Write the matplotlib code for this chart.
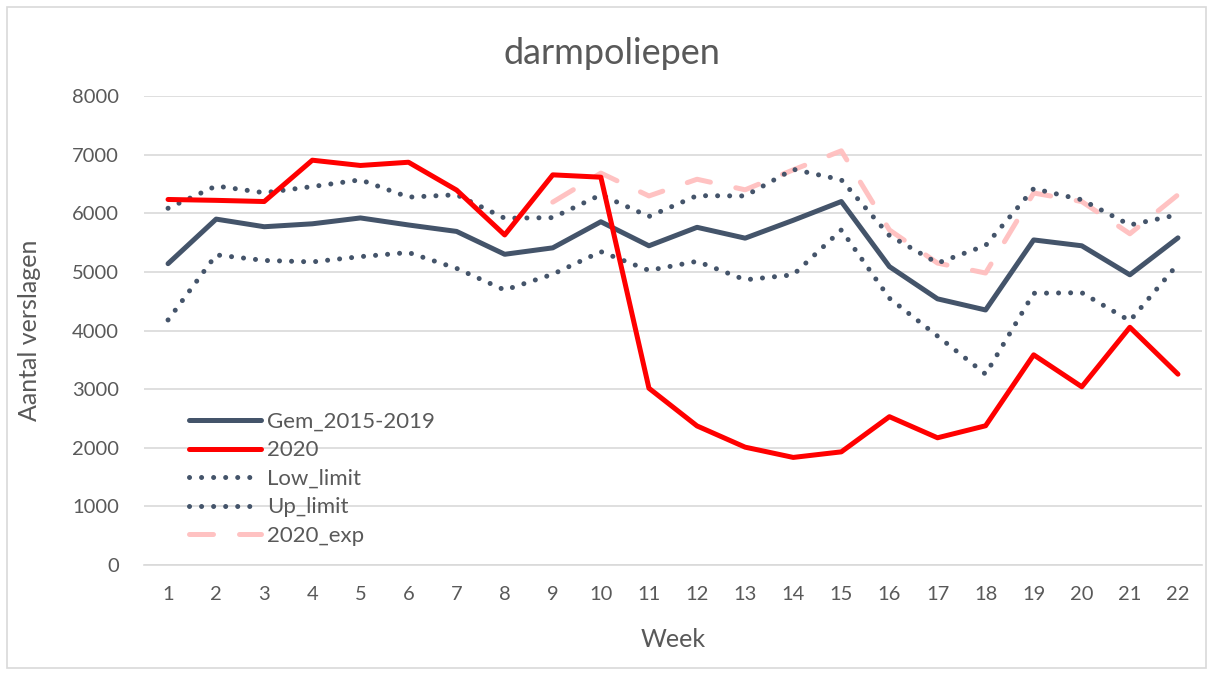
import numpy as np
import matplotlib
matplotlib.use("Agg")
import matplotlib.pyplot as plt
from matplotlib.patches import Rectangle

weeks = list(range(1, 23))
gem_2015_2019 = [5140, 5900, 5770, 5820, 5920, 5800, 5690, 5300, 5410, 5855,
                 5445, 5760, 5575, 5880, 6200, 5090, 4540, 4350, 5545, 5445, 4950, 5580]
y2020 = [6235, 6220, 6200, 6905, 6815, 6870, 6395, 5630, 6655, 6615,
         3015, 2372, 2010, 1835, 1930, 2530, 2170, 2375, 3585, 3040, 4055, 3255]
low_limit = [4180, 5290, 5195, 5170, 5260, 5330, 5060, 4690, 4960, 5345,
             5025, 5180, 4865, 4950, 5715, 4550, 3905, 3255, 4635, 4645, 4165, 5135]
up_limit = [6085, 6465, 6350, 6455, 6570, 6275, 6315, 5915, 5925, 6315,
            5945, 6300, 6295, 6750, 6570, 5620, 5150, 5450, 6420, 6230, 5800, 5975]
exp_2020 = [np.nan] * 8 + [6190, 6685, 6295, 6580, 6400, 6740, 7065,
                           5715, 5150, 4980, 6345, 6200, 5650, 6315]

plt.rcParams['font.family'] = ['Lato', 'DejaVu Sans']
txt = '#595959'
navy = '#44546A'

fig = plt.figure(figsize=(12.14, 6.75), dpi=100)
ax = fig.add_axes([144/1214, 1-565/675, (1202-144)/1214, (565-96)/675])

fig.patches.append(Rectangle((7/1214, 7/675), 1199/1214, 661/675, transform=fig.transFigure,
                             fill=False, edgecolor='#d9d9d9', linewidth=1.2))

lw = 3.6
ax.plot(weeks, gem_2015_2019, color=navy, lw=lw, label='Gem_2015-2019',
        solid_capstyle='round', zorder=3)
ax.plot(weeks, y2020, color='#FF0000', lw=lw, label='2020', solid_capstyle='round', zorder=4)
ax.plot(weeks, low_limit, color=navy, lw=lw, linestyle=(0, (0.01, 2.4)),
        dash_capstyle='round', label='Low_limit', zorder=3)
ax.plot(weeks, up_limit, color=navy, lw=lw, linestyle=(0, (0.01, 2.4)),
        dash_capstyle='round', label='Up_limit', zorder=3)
ax.plot(weeks, exp_2020, color='#FFBFBF', lw=lw, linestyle=(0, (4.8, 5.2)),
        dash_capstyle='round', label='2020_exp', zorder=2, alpha=0.95)

ax.set_xlim(0.5, 22.5)
ax.set_ylim(0, 8000)
ax.set_yticks(range(0, 8001, 1000))
ax.set_xticks(weeks)
ax.grid(axis='y', color='#d9d9d9', lw=1.2, zorder=0)
ax.set_axisbelow(True)
for s in ax.spines.values():
    s.set_visible(False)
ax.spines['bottom'].set_visible(True)
ax.spines['bottom'].set_color('#d9d9d9')
ax.spines['bottom'].set_linewidth(1.2)
ax.tick_params(axis='both', length=0, labelsize=14.5, labelcolor=txt)
ax.tick_params(axis='x', pad=15)
ax.tick_params(axis='y', pad=18)

ax.set_xlabel('Week', fontsize=18, color=txt, labelpad=18)
ax.set_ylabel('Aantal verslagen', fontsize=18, color=txt, labelpad=22)
fig.text(612/1214, 1-53/675, 'darmpoliepen', fontsize=26, color=txt,
         ha='center', va='center')

leg = ax.legend(loc='lower left', bbox_to_anchor=(0.034, 0.022), frameon=False,
                fontsize=16, handlelength=3.25, handletextpad=0.25, labelspacing=0.38,
                borderaxespad=0)
for t in leg.get_texts():
    t.set_color(txt)

fig.savefig('out.png', dpi=100)
